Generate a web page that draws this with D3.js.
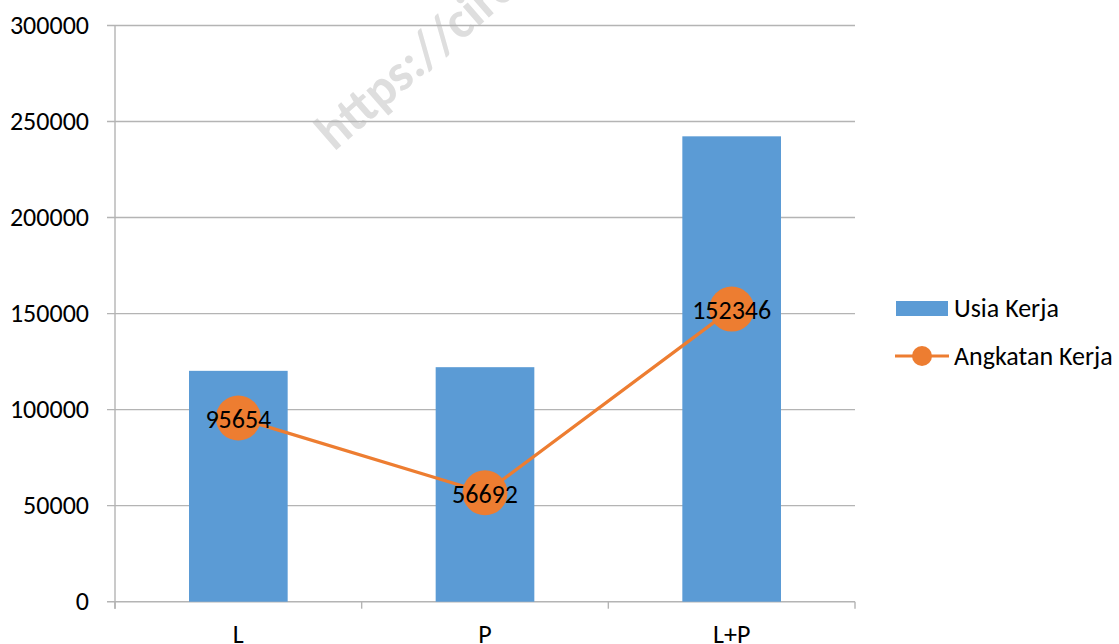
<!DOCTYPE html>
<html>
<head>
<meta charset="utf-8">
<script src="https://cdn.jsdelivr.net/npm/d3@7"></script>
<style>
  html, body { margin: 0; padding: 0; background: #ffffff; }
  svg { display: block; }
  text { font-family: Carlito, "Open Sans", sans-serif; }
</style>
</head>
<body>
<svg id="chart" width="1119" height="644"></svg>
<script>
// Categories and series
const categories = ["L", "P", "L+P"];
const usiaKerja = [120200, 122100, 242300];
const angkatanKerja = [95654, 56692, 152346];
const yTicks = [0, 50000, 100000, 150000, 200000, 250000, 300000];
const seriesNames = ["Usia Kerja", "Angkatan Kerja"];

const blue = "#5b9bd5";
const orange = "#ed7d31";
const gridColor = "#b4b4b4";
const fontSize = 26;

const svg = d3.select("#chart");
const plot = { left: 115, right: 855, top: 25.5, bottom: 601.7 };

const x = d3.scaleBand()
  .domain(categories)
  .range([plot.left, plot.right])
  .paddingInner(0.6)
  .paddingOuter(0.3);

const y = d3.scaleLinear()
  .domain([0, 300000])
  .range([plot.bottom, plot.top]);

const cx = (i) => x(categories[i]) + x.bandwidth() / 2;

// Faint watermark behind the plot
svg.append("text")
  .attr("transform", "translate(334,152) rotate(-41)")
  .attr("font-family", "Liberation Sans, Arial, sans-serif")
  .attr("font-weight", "bold")
  .attr("font-size", 52)
  .attr("fill", "#dedede")
  .text("https://circ");

// Horizontal gridlines, extended left as outward ticks
svg.append("g")
  .selectAll("line")
  .data(yTicks)
  .join("line")
  .attr("x1", plot.left - 8)
  .attr("x2", plot.right)
  .attr("y1", d => y(d))
  .attr("y2", d => y(d))
  .attr("stroke", gridColor)
  .attr("stroke-width", 1.4);

// Value axis line
svg.append("line")
  .attr("x1", plot.left).attr("x2", plot.left)
  .attr("y1", plot.top).attr("y2", plot.bottom + 7)
  .attr("stroke", gridColor)
  .attr("stroke-width", 1.4);

// Value axis labels
svg.append("g")
  .selectAll("text")
  .data(yTicks)
  .join("text")
  .attr("x", 89)
  .attr("y", d => y(d))
  .attr("dy", "0.33em")
  .attr("text-anchor", "end")
  .attr("font-size", fontSize)
  .attr("fill", "#000")
  .text(d => d3.format("d")(d));

// Category axis: tick marks at band boundaries
const boundaries = [plot.left, ...categories.map(c => x(c) + x.bandwidth() / 2 + x.step() / 2)];
svg.append("g")
  .selectAll("line")
  .data(boundaries)
  .join("line")
  .attr("x1", d => d).attr("x2", d => d)
  .attr("y1", plot.bottom).attr("y2", plot.bottom + 7)
  .attr("stroke", gridColor)
  .attr("stroke-width", 1.4);

// Bars
svg.append("g")
  .selectAll("rect")
  .data(categories)
  .join("rect")
  .attr("x", d => x(d))
  .attr("width", x.bandwidth())
  .attr("y", (d, i) => y(usiaKerja[i]))
  .attr("height", (d, i) => y(0) - y(usiaKerja[i]))
  .attr("fill", blue);

// Category labels
svg.append("g")
  .selectAll("text")
  .data(categories)
  .join("text")
  .attr("x", d => x(d) + x.bandwidth() / 2)
  .attr("y", 643)
  .attr("text-anchor", "middle")
  .attr("font-size", fontSize)
  .attr("fill", "#000")
  .text(d => d);

// Line series
const line = d3.line()
  .x((d, i) => cx(i))
  .y(d => y(d));

svg.append("path")
  .datum(angkatanKerja)
  .attr("d", line)
  .attr("fill", "none")
  .attr("stroke", orange)
  .attr("stroke-width", 3.2)
  .attr("stroke-linejoin", "round");

svg.append("g")
  .selectAll("circle")
  .data(angkatanKerja)
  .join("circle")
  .attr("cx", (d, i) => cx(i))
  .attr("cy", d => y(d))
  .attr("r", 22.5)
  .attr("fill", orange);

// Data labels on markers
svg.append("g")
  .selectAll("text")
  .data(angkatanKerja)
  .join("text")
  .attr("x", (d, i) => cx(i))
  .attr("y", d => y(d))
  .attr("dy", "0.4em")
  .attr("text-anchor", "middle")
  .attr("font-size", fontSize)
  .attr("fill", "#000")
  .text(d => d);

// Legend
const legend = svg.append("g");
legend.append("rect")
  .attr("x", 896).attr("y", 301)
  .attr("width", 52).attr("height", 15)
  .attr("fill", blue);
legend.append("text")
  .attr("x", 954).attr("y", 308.5)
  .attr("dy", "0.33em")
  .attr("font-size", fontSize)
  .attr("fill", "#000")
  .text(seriesNames[0]);

legend.append("line")
  .attr("x1", 895).attr("x2", 949)
  .attr("y1", 356).attr("y2", 356)
  .attr("stroke", orange)
  .attr("stroke-width", 3.2);
legend.append("circle")
  .attr("cx", 922).attr("cy", 356)
  .attr("r", 10)
  .attr("fill", orange);
legend.append("text")
  .attr("x", 954).attr("y", 356)
  .attr("dy", "0.33em")
  .attr("font-size", fontSize)
  .attr("fill", "#000")
  .text(seriesNames[1]);
</script>
</body>
</html>
